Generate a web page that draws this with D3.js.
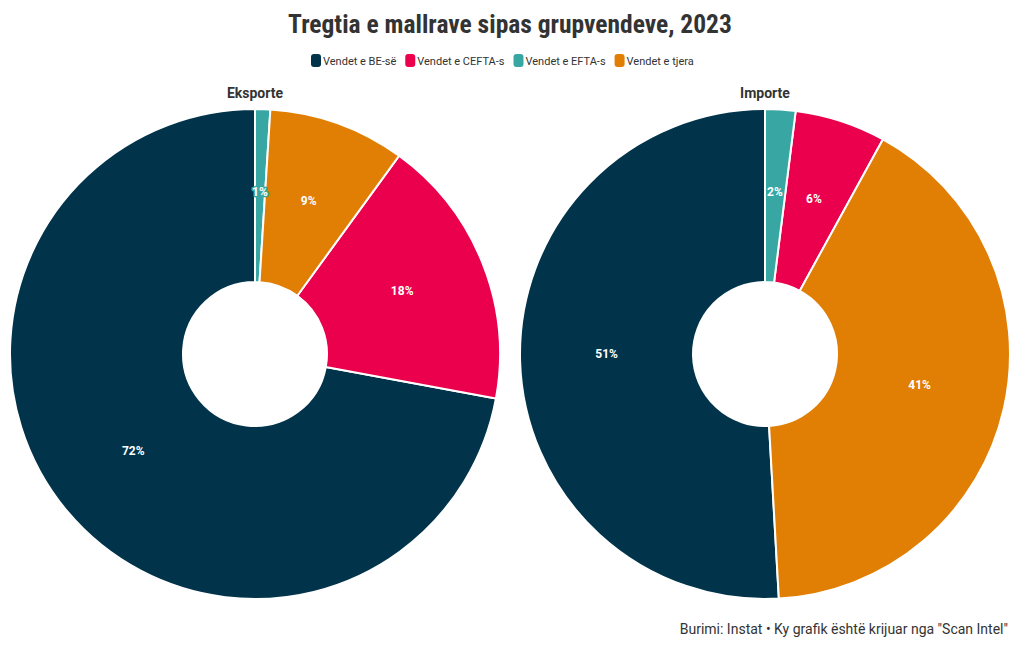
<!DOCTYPE html>
<html><head><meta charset="utf-8">
<script src="https://cdn.jsdelivr.net/npm/d3@7"></script>
<style>
body{margin:0;background:#fff;}
svg{display:block;font-family:"Roboto","DejaVu Sans Condensed",sans-serif;}
</style></head>
<body><svg id="c" width="1020" height="650"></svg>
<script>
const categories = ["Vendet e BE-së","Vendet e CEFTA-s","Vendet e EFTA-s","Vendet e tjera"];
const colors = ["#01344A","#EA004C","#38A7A4","#E17E04"];
const eksporte = [72.1, 17.9, 1.0, 9.0];
const importe = [50.9, 6.0, 2.0, 41.1];
const panels = ["Eksporte","Importe"];
const title = "Tregtia e mallrave sipas grupvendeve, 2023";
const source = "Burimi: Instat • Ky grafik është krijuar nga \"Scan Intel\"";

const svg = d3.select("#c");
const color = d3.scaleOrdinal().domain(categories).range(colors);

svg.append("text").attr("x",510).attr("y",33).attr("text-anchor","middle")
  .attr("font-size",25.5).attr("font-weight",700).attr("fill","#333")
  .attr("font-stretch","condensed").text(title);

// legend
const leg = svg.append("g");
let lx = 311;
categories.forEach(c=>{
  const g = leg.append("g").attr("transform",`translate(${lx},0)`);
  g.append("rect").attr("x",0).attr("y",54).attr("width",10).attr("height",13).attr("rx",3).attr("fill",color(c));
  const t = g.append("text").attr("x",12).attr("y",65).attr("font-size",11).attr("fill","#333").text(c);
  lx += 12 + t.node().getComputedTextLength() + 9;
});

const pie = d3.pie().sort((a,b)=>a.v-b.v).value(d=>d.v);
const rOut = 245, rIn = 72;
const arc = d3.arc().innerRadius(rIn).outerRadius(rOut);
const centers = [255,765];

[eksporte, importe].forEach((vals,i)=>{
  const data = categories.map((c,j)=>({c, v: vals[j]}));
  const g = svg.append("g").attr("transform",`translate(${centers[i]},354)`);
  svg.append("text").attr("x",centers[i]).attr("y",98).attr("text-anchor","middle")
    .attr("font-size",14).attr("font-weight",700).attr("fill","#333").text(panels[i]);
  const arcs = pie(data);
  g.selectAll("path").data(arcs).join("path")
    .attr("d",arc).attr("fill",d=>color(d.data.c))
    .attr("stroke","#fff").attr("stroke-width",2).attr("stroke-linejoin","round");
  g.selectAll("text.lab").data(arcs).join("text").attr("class","lab")
    .attr("transform",d=>`translate(${arc.centroid(d)})`)
    .attr("text-anchor","middle").attr("dy","0")
    .attr("font-size",12).attr("font-weight",700).attr("fill","#fff")
    .attr("stroke",d=>color(d.data.c)).attr("stroke-width",3).attr("paint-order","stroke")
    .attr("stroke-linejoin","round")
    .text(d=>Math.round(d.data.v)+"%");
});

svg.append("text").attr("x",1008).attr("y",634).attr("text-anchor","end")
  .attr("font-size",14).attr("fill","#333").text(source);
</script></body></html>
